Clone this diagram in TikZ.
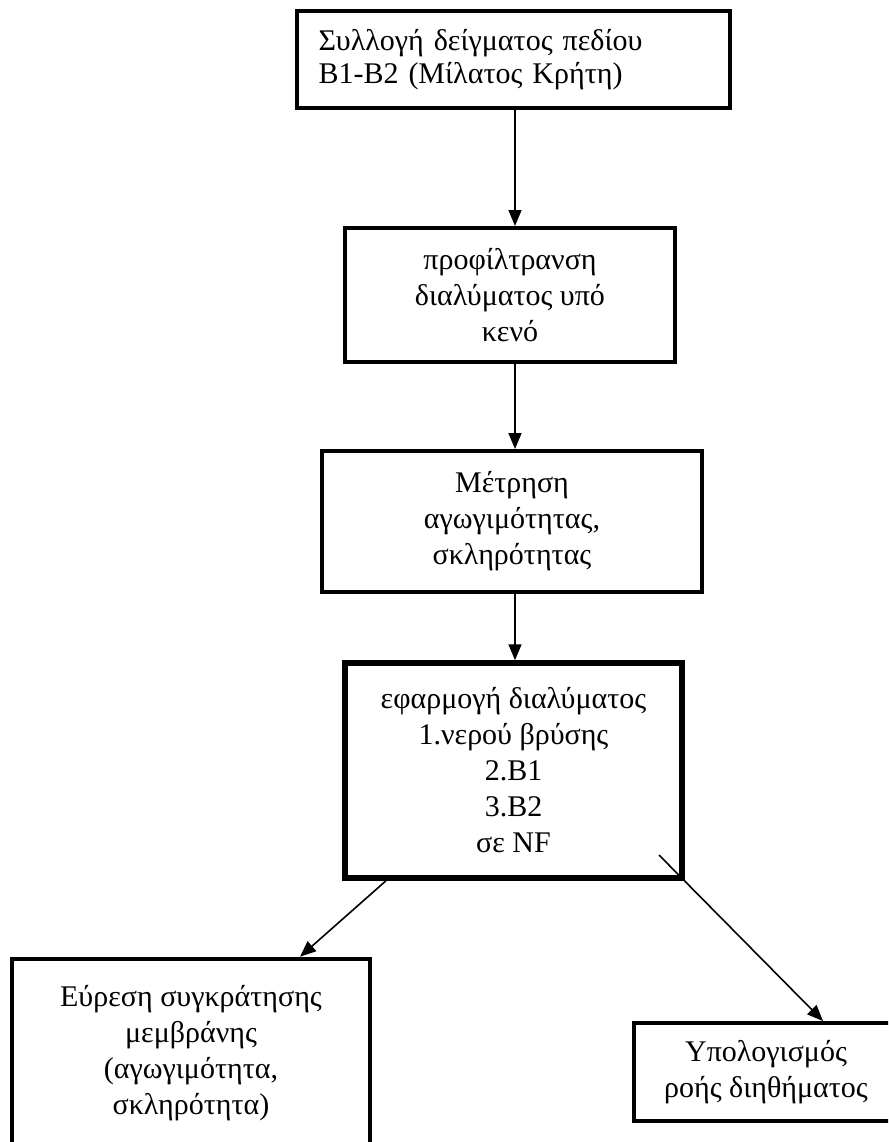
\documentclass[tikz,border=0pt]{standalone}
\usepackage{fontspec}
\setmainfont{Liberation Serif}
\usetikzlibrary{arrows.meta}

\tikzset{
	stage/.style={draw=black, line width=4pt, align=center, inner sep=0pt, font=\fontsize{30}{36}\selectfont},
	flow/.style={-{Triangle[length=16pt,width=13pt]}, line width=1.6pt},
}

\begin{document}
\begin{tikzpicture}[x=1pt, y=-1pt]
		\clip (0,0) rectangle (888,1142);

		\node[stage, align=left, text width=390pt, inner xsep=21.5pt, minimum height=97pt, font=\fontsize{30}{33}\selectfont] (sample) at (513.5, 59.5) {Συλλογή δείγματος πεδίου\\B1-B2 (Μίλατος Κρήτη)};
		\node[stage, minimum width=330pt, minimum height=134pt] (prefilter) at (510, 295) {προφίλτρανση\\διαλύματος υπό\\κενό};
		\node[stage, minimum width=380pt, minimum height=141pt] (measure) at (512, 521.5) {Μέτρηση\\αγωγιμότητας,\\σκληρότητας};
		\node[stage, line width=5.5pt, minimum width=337pt, minimum height=215pt] (apply) at (513.5, 770.5) {εφαρμογή διαλύματος\\1.νερού βρύσης\\2.B1\\3.B2\\σε NF};
		\node[stage, minimum width=358pt, minimum height=188pt, line width=4.5pt] (retention) at (191, 1053) {Εύρεση συγκράτησης\\μεμβράνης\\(αγωγιμότητα,\\σκληρότητα)};
		\node[stage, minimum width=264pt, minimum height=98pt] (flux) at (766, 1072) {Υπολογισμός\\ροής διηθήματος};

		% points the arrows run through
		\coordinate (axis) at (515, 0);
		\coordinate (leftout) at (386, 0);
		\coordinate (leftin) at (300, 0);
		\coordinate (rightstart) at (659, 855);
		\coordinate (rightin) at (823, 0);

		\draw[flow] (sample.south -| axis) -- (prefilter.north -| axis);
		\draw[flow] (prefilter.south -| axis) -- (measure.north -| axis);
		\draw[flow] (measure.south -| axis) -- (apply.north -| axis);
		\draw[flow] (apply.south -| leftout) -- (retention.north -| leftin);
		\draw[flow] (rightstart) -- (flux.north -| rightin);
	\end{tikzpicture}
\end{document}
